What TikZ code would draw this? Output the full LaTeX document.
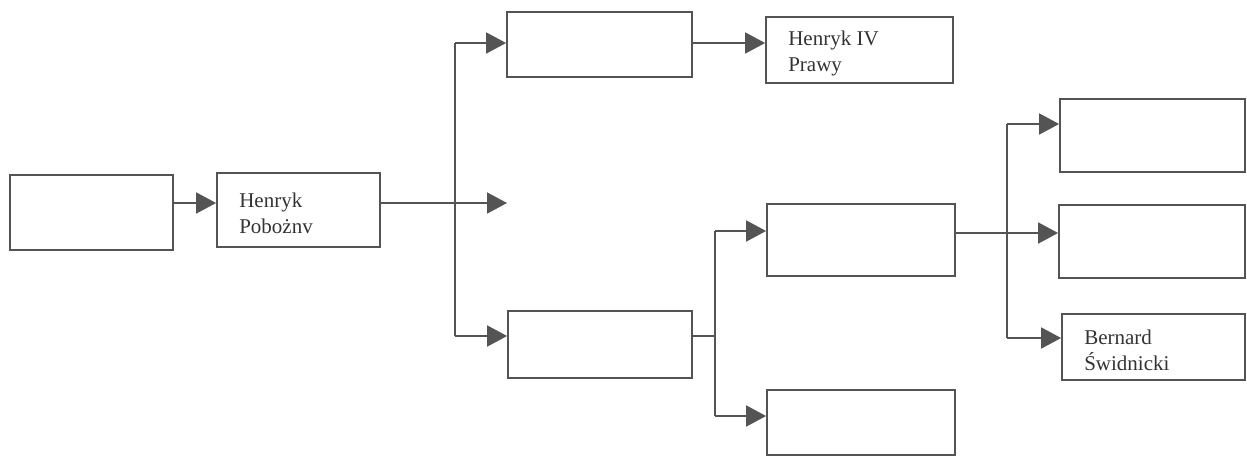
\documentclass[tikz,border=0pt]{standalone}
\usepackage{fontspec}
\setmainfont{Liberation Serif}
\usetikzlibrary{arrows.meta}
\definecolor{ink}{gray}{0.33}
\tikzset{
  box/.style={draw=ink, line width=1.8pt, rectangle, inner sep=0pt},
  txt/.style={inner sep=0pt, anchor=west, font=\fontsize{21}{26}\selectfont, text=black!80, align=left},
  ln/.style={draw=ink, line width=1.8pt},
  arr/.style={ln, -{Triangle[length=20pt,width=21pt]}, fill=ink}
}
\newcommand{\bx}[6]{% name, x1, y1, x2, y2, text
  \pgfmathsetmacro{\bw}{#4-#2}\pgfmathsetmacro{\bh}{#5-#3}
  \node[box, minimum width=\bw pt, minimum height=\bh pt] (#1) at ({(#2+#4)/2},{(#3+#5)/2}) {};
  \node[txt] (#1t) at ([xshift=23pt, yshift=-3pt]#1.west) {#6};}
\begin{document}
\begin{tikzpicture}[x=1pt,y=-1pt]
\useasboundingbox (0,0) rectangle (1247,459);
\bx{A}{10}{175}{173}{250}{}
\bx{B}{217}{173}{380}{247}{Henryk\\Pobożnv}
\bx{C}{507}{12}{692}{77}{}
\bx{D}{766}{17}{953}{83}{Henryk IV\\Prawy}
\bx{E}{508}{311}{692}{378}{}
\bx{F}{767}{204}{955}{276}{}
\bx{G}{767}{390}{955}{455}{}
\bx{H}{1060}{99}{1245}{172}{}
\bx{I}{1059}{205}{1245}{278}{}
\bx{J}{1062}{314}{1245}{380}{Bernard\\Świdnicki}
\coordinate (open) at (507,203);
\coordinate (j1t) at (455,43);
\coordinate (j1b) at (455,336);
\coordinate (j2t) at (715,231);
\coordinate (j2m) at (715,336);
\coordinate (j2b) at (715,416);
\coordinate (j3t) at (1007,124);
\coordinate (j3m) at (1007,233);
\coordinate (j3b) at (1007,338);
\draw[arr] (A.east |- open) -- (B.west |- open);
\draw[arr] (B.east |- open) -- (open);
\draw[ln] (j1t) -- (j1b);
\draw[arr] (j1t) -- (C.west |- j1t);
\draw[arr] (j1b) -- (E.west |- j1b);
\draw[arr] (C.east |- j1t) -- (D.west |- j1t);
\draw[ln] (E.east |- j2m) -- (j2m);
\draw[ln] (j2t) -- (j2b);
\draw[arr] (j2t) -- (F.west |- j2t);
\draw[arr] (j2b) -- (G.west |- j2b);
\draw[arr] (F.east |- j3m) -- (I.west |- j3m);
\draw[ln] (j3t) -- (j3b);
\draw[arr] (j3t) -- (H.west |- j3t);
\draw[arr] (j3b) -- (J.west |- j3b);
\end{tikzpicture}
\end{document}
